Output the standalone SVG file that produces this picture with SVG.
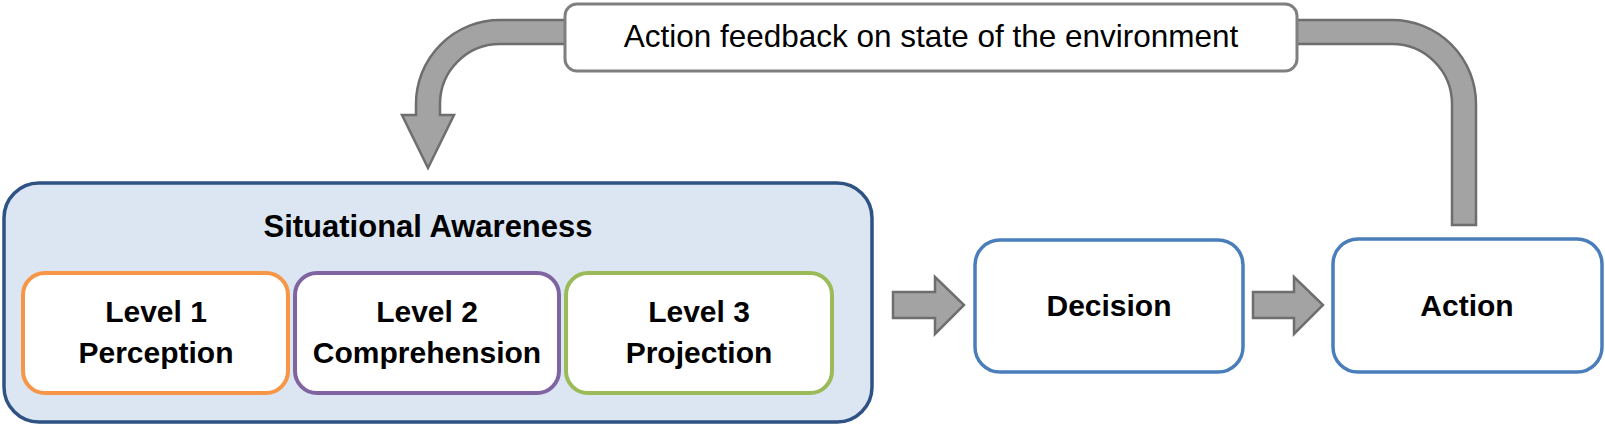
<svg xmlns="http://www.w3.org/2000/svg" width="1605" height="428" viewBox="0 0 1605 428">
<style>
.bold{font-family:"Liberation Sans",Arial,sans-serif;font-weight:bold;fill:#000;text-anchor:middle}
.reg{font-family:"Liberation Sans",Arial,sans-serif;fill:#000;text-anchor:middle}
.arrow{fill:#a3a3a3;stroke:#6e6e6e;stroke-width:2.5;stroke-linejoin:miter}
.lvl{fill:#fff;stroke-width:4}
.blue{fill:#fff;stroke:#4a7ebb;stroke-width:3.5}
</style>
<rect width="1605" height="428" fill="#fff"/>
<g id="connectors">
<path class="arrow" d="M1452 225 L1452 104 A60 60 0 0 0 1392 44 L500 44 A60 60 0 0 0 440 104 L440 115 L454 115 L428 168 L402 115 L416 115 L416 104 A84 84 0 0 1 500 20 L1392 20 A84 84 0 0 1 1476 104 L1476 225 Z"/>
<path class="arrow" d="M893 292 L935 292 L935 277 L964 305 L935 334 L935 318 L893 318 Z"/>
<path class="arrow" d="M1253 292 L1294 292 L1294 277 L1323 305 L1294 334 L1294 318 L1253 318 Z"/>
</g>
<g id="feedback-label">
<rect x="565" y="4" width="732" height="67" rx="12" fill="#fff" stroke="#7f7f7f" stroke-width="3"/>
<text class="reg" x="931" y="47" font-size="31.5">Action feedback on state of the environment</text>
</g>
<g id="situational-awareness">
<rect x="4" y="183" width="868" height="239" rx="35" fill="#dbe6f2" stroke="#2e5283" stroke-width="3.5"/>
<text class="bold" x="428" y="237" font-size="31">Situational Awareness</text>
</g>
<g id="level1">
<rect class="lvl" x="23" y="273" width="265" height="120" rx="22" stroke="#f79646"/>
<text class="bold" x="156" y="322" font-size="30">Level 1</text>
<text class="bold" x="156" y="363" font-size="30">Perception</text>
</g>
<g id="level2">
<rect class="lvl" x="295" y="273" width="264" height="120" rx="22" stroke="#8064a2"/>
<text class="bold" x="427" y="322" font-size="30">Level 2</text>
<text class="bold" x="427" y="363" font-size="30">Comprehension</text>
</g>
<g id="level3">
<rect class="lvl" x="566" y="273" width="266" height="120" rx="22" stroke="#9bbb59"/>
<text class="bold" x="699" y="322" font-size="30">Level 3</text>
<text class="bold" x="699" y="363" font-size="30">Projection</text>
</g>
<g id="decision">
<rect class="blue" x="975" y="240" width="268" height="132" rx="25"/>
<text class="bold" x="1109" y="316" font-size="30">Decision</text>
</g>
<g id="action">
<rect class="blue" x="1333" y="239" width="269" height="133" rx="25"/>
<text class="bold" x="1467" y="316" font-size="30">Action</text>
</g>
</svg>
